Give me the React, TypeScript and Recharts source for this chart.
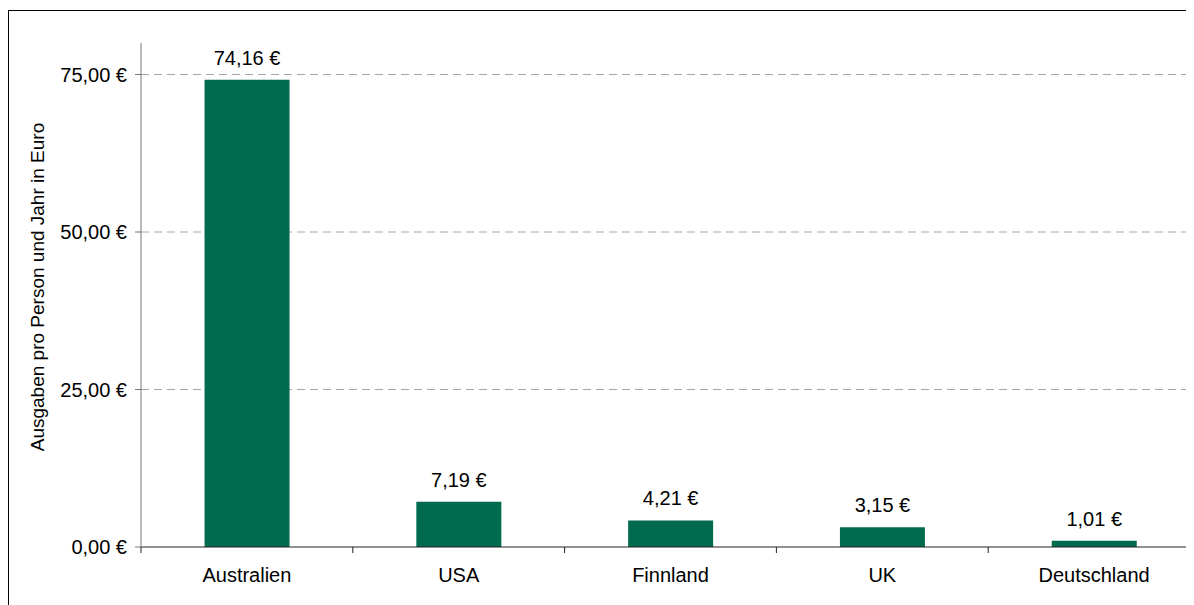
import React from 'react';
import { BarChart, Bar, XAxis, YAxis, CartesianGrid, LabelList } from 'recharts';

const countries = ['Australien', 'USA', 'Finnland', 'UK', 'Deutschland'];
const spending = [74.16, 7.19, 4.21, 3.15, 1.01];
const yTicks = [0, 25, 50, 75];
const gridValues = [25, 50, 75];

const data = countries.map((name, i) => ({ name, value: spending[i] }));

const FONT = '"Liberation Sans", Arial, sans-serif';
const euro = (v: number) => `${v.toFixed(2).replace('.', ',')} €`;

// category ticks sit between the bars, the label stays centred
function CountryTick(props: any) {
  const { x, y, payload } = props;
  const half = payload?.offset ?? 0;
  return (
    <g>
      <line x1={x - half} x2={x - half} y1={y - 21} y2={y - 15} stroke="#222" />
      <text x={x} y={y} dy="0.71em" textAnchor="middle" fontSize={20} fill="#000" fontFamily={FONT}>
        {payload.value}
      </text>
    </g>
  );
}

function AxisTitle(props: any) {
  const { viewBox } = props;
  const cx = viewBox.x + 28;
  const cy = viewBox.y + viewBox.height / 2 - 8;
  return (
    <text
      x={cx}
      y={cy}
      transform={`rotate(-90, ${cx}, ${cy})`}
      textAnchor="middle"
      dominantBaseline="central"
      fontSize={19}
      fill="#000"
      fontFamily={FONT}
    >
      Ausgaben pro Person und Jahr in Euro
    </text>
  );
}

export default function App() {
  return (
    <div style={{ width: 1186, height: 597, overflow: 'hidden', paddingTop: 2, boxSizing: 'border-box' }}>
      <div style={{ borderTop: '1px solid #000', borderLeft: '1px solid #000', width: 1300, height: 700 }}>
        <BarChart
          width={1200}
          height={594}
          data={data}
          margin={{ top: 32, right: 9, left: 0, bottom: 0 }}
          barCategoryGap="30%"
          style={{ fontFamily: FONT }}
        >
          <CartesianGrid
            vertical={false}
            horizontalValues={gridValues}
            stroke="#a6a6a6"
            strokeDasharray="8 5"
          />
          <XAxis
            dataKey="name"
            height={58}
            tickLine={false}
            tickSize={6}
            tickMargin={15}
            axisLine={{ stroke: '#222' }}
            tick={<CountryTick />}
            interval={0}
          />
          <YAxis
            width={132}
            domain={[0, 80]}
            ticks={yTicks}
            tickSize={6}
            tickMargin={8}
            axisLine={{ stroke: '#777' }}
            tickLine={{ stroke: '#777' }}
            tick={{ fontSize: 20, fill: '#000', fontFamily: FONT }}
            tickFormatter={euro}
            label={{ content: <AxisTitle /> }}
          />
          <Bar dataKey="value" fill="#006B4F" isAnimationActive={false}>
            <LabelList
              dataKey="value"
              position="top"
              offset={15}
              formatter={(v: any) => euro(Number(v))}
              style={{ fontSize: 20, fill: '#000', fontFamily: FONT }}
            />
          </Bar>
        </BarChart>
      </div>
    </div>
  );
}
